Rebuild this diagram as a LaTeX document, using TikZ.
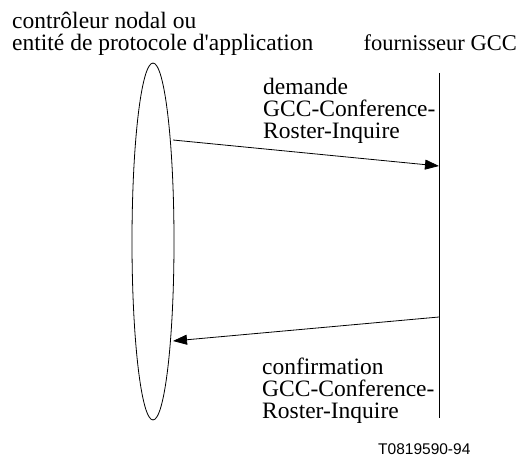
\documentclass[tikz,border=0pt]{standalone}
\usepackage{fontspec}
\setmainfont{Liberation Serif}
\newfontfamily\labelsans{Liberation Sans}
\usetikzlibrary{positioning, arrows.meta, shapes.geometric}
\tikzstyle{arrow} = [line width=0.8pt,-{Triangle[length=14pt,width=10pt]}]

\begin{document}
\begin{tikzpicture}[x=1pt,y=-1pt]
                    \tikzstyle{every node}=[font=\fontsize{23.5}{22}\selectfont, inner sep=0pt]
                    \tikzstyle{label} = [anchor=base west, align=left]
                    \tikzstyle{entity} = [ellipse, draw=black, line width=0.8pt, minimum width=42pt, minimum height=357pt]
                    \tikzstyle{lifeline} = [line width=0.8pt]
                    \useasboundingbox (0,0) rectangle (520,457);

                    \node[entity](ctrl) at (153,241.5) {};
                    \coordinate (gcctop) at (439,73);
                    \coordinate (gccbot) at (439,418);
                    \draw[lifeline] (gcctop) -- (gccbot);

                    % base = last line
                    \node[label](ctrllbl) at (12,51) {contrôleur nodal ou\\entité de protocole d\textquotesingle application};
                    \node[anchor=base east, font=\fontsize{22.5}{22}\selectfont](gcclbl) at (517,51) {fournisseur GCC};

                    % demande
                    \coordinate (reqs) at (173,140);
                    \coordinate (reqe) at (439,166);
                    \draw[arrow] (reqs) -- (reqe);
                    \node[label](reqlbl) at (263,139) {demande\\GCC-Conference-\\Roster-Inquire};

                    % confirmation
                    \coordinate (cnfs) at (439,317);
                    \coordinate (cnfe) at (173,341);
                    \draw[arrow] (cnfs) -- (cnfe);
                    \node[label](cnflbl) at (262,418) {confirmation\\GCC-Conference-\\Roster-Inquire};

                    \node[anchor=base west, font=\labelsans\fontsize{15.5}{17}\selectfont](figno) at (378,454) {T0819590-94};
\end{tikzpicture}
\end{document}
